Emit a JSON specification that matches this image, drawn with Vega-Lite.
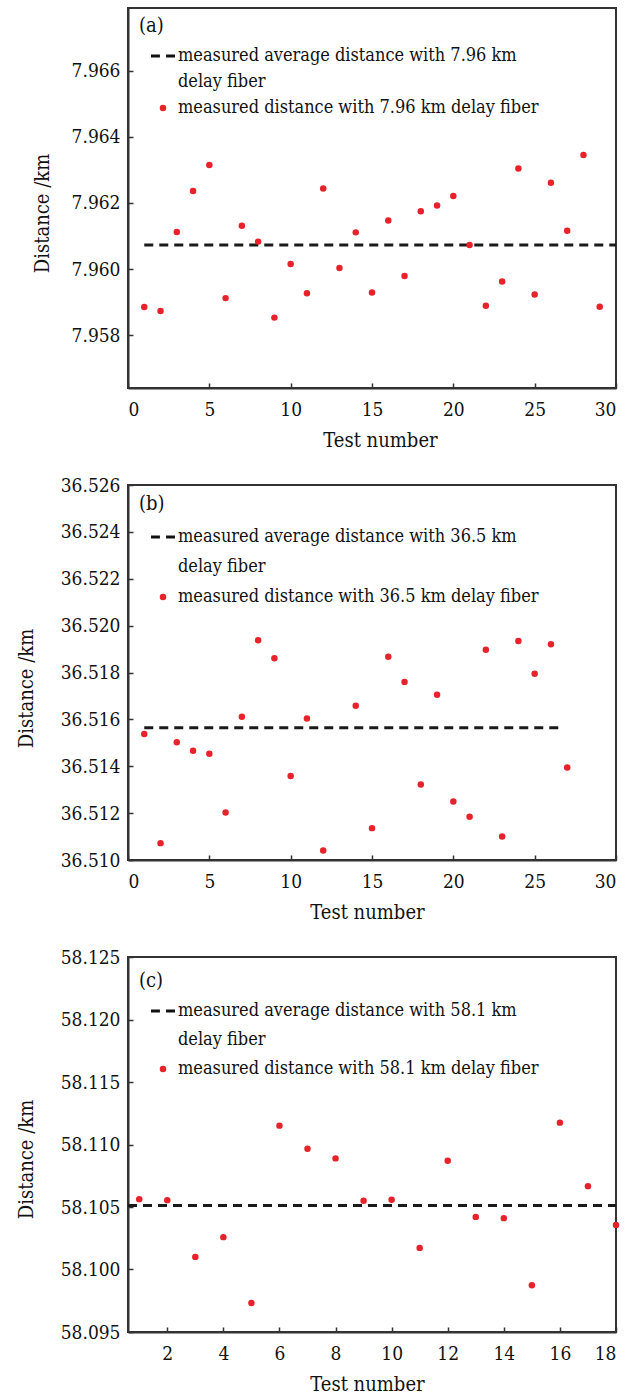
{
  "$schema": "https://vega.github.io/schema/vega-lite/v6.json",
  "autosize": {"type": "pad"},
  "padding": {"left": 15, "top": 7, "right": 10, "bottom": 2},
  "background": "white",
  "bounds": "flush",
  "spacing": 97,
  "resolve": {
    "scale": {"x": "independent", "y": "independent", "color": "independent", "shape": "independent"},
    "legend": {"color": "independent", "shape": "independent"}
  },
  "datasets": {
    "pa": [
      {"test": 1, "distance": 7.95885}, {"test": 2, "distance": 7.95873}, {"test": 3, "distance": 7.96112},
      {"test": 4, "distance": 7.96236}, {"test": 5, "distance": 7.96315}, {"test": 6, "distance": 7.95912},
      {"test": 7, "distance": 7.96131}, {"test": 8, "distance": 7.96083}, {"test": 9, "distance": 7.95853},
      {"test": 10, "distance": 7.96015}, {"test": 11, "distance": 7.95927}, {"test": 12, "distance": 7.96244},
      {"test": 13, "distance": 7.96003}, {"test": 14, "distance": 7.96111}, {"test": 15, "distance": 7.95929},
      {"test": 16, "distance": 7.96147}, {"test": 17, "distance": 7.95979}, {"test": 18, "distance": 7.96175},
      {"test": 19, "distance": 7.96192}, {"test": 20, "distance": 7.96221}, {"test": 21, "distance": 7.96073},
      {"test": 22, "distance": 7.95889}, {"test": 23, "distance": 7.95962}, {"test": 24, "distance": 7.96304},
      {"test": 25, "distance": 7.95923}, {"test": 26, "distance": 7.96261}, {"test": 27, "distance": 7.96116},
      {"test": 28, "distance": 7.96345}, {"test": 29, "distance": 7.95886}
    ],
    "pb": [
      {"test": 1, "distance": 36.51538}, {"test": 2, "distance": 36.51072}, {"test": 3, "distance": 36.51502},
      {"test": 4, "distance": 36.51466}, {"test": 5, "distance": 36.51453}, {"test": 6, "distance": 36.51203},
      {"test": 7, "distance": 36.51611}, {"test": 8, "distance": 36.51938}, {"test": 9, "distance": 36.51861},
      {"test": 10, "distance": 36.51358}, {"test": 11, "distance": 36.51604}, {"test": 12, "distance": 36.51041},
      {"test": 14, "distance": 36.51658}, {"test": 15, "distance": 36.51136}, {"test": 16, "distance": 36.51867},
      {"test": 17, "distance": 36.5176}, {"test": 18, "distance": 36.51322}, {"test": 19, "distance": 36.51705},
      {"test": 20, "distance": 36.5125}, {"test": 21, "distance": 36.51185}, {"test": 22, "distance": 36.51897},
      {"test": 23, "distance": 36.511}, {"test": 24, "distance": 36.51934}, {"test": 25, "distance": 36.51795},
      {"test": 26, "distance": 36.51921}, {"test": 27, "distance": 36.51395}
    ],
    "pc": [
      {"test": 1, "distance": 58.10563}, {"test": 2, "distance": 58.10555}, {"test": 3, "distance": 58.10101},
      {"test": 4, "distance": 58.10259}, {"test": 5, "distance": 58.09732}, {"test": 6, "distance": 58.11151},
      {"test": 7, "distance": 58.10966}, {"test": 8, "distance": 58.10889}, {"test": 9, "distance": 58.1055},
      {"test": 10, "distance": 58.10558}, {"test": 11, "distance": 58.10173}, {"test": 12, "distance": 58.1087},
      {"test": 13, "distance": 58.10421}, {"test": 14, "distance": 58.10411}, {"test": 15, "distance": 58.09874},
      {"test": 16, "distance": 58.11175}, {"test": 17, "distance": 58.10667}, {"test": 18, "distance": 58.10357}
    ]
  },
  "vconcat": [
    {
      "width": 488,
      "height": 380,
      "layer": [
        {
          "data": {"values": [{"x": 1, "x2": 30, "y": 7.96073}]},
          "mark": {"type": "rule", "strokeDash": [9, 6], "strokeWidth": 3, "color": "#1a1a1a"},
          "encoding": {
            "x": {"field": "x", "type": "quantitative", "scale": {"domain": [0, 30], "nice": false, "zero": false}},
            "x2": {"field": "x2"},
            "y": {"field": "y", "type": "quantitative", "scale": {"domain": [7.9564, 7.9679], "nice": false, "zero": false}}
          }
        },
        {
          "data": {"name": "pa"},
          "transform": [{"calculate": "'measured distance with 7.96 km delay fiber'", "as": "series"}],
          "mark": {"type": "point", "filled": true, "size": 42, "opacity": 1},
          "encoding": {
            "x": {"field": "test", "type": "quantitative", "scale": {"domain": [0, 30], "nice": false, "zero": false},
              "axis": {"values": [0, 5, 10, 15, 20, 25, 30], "title": "Test number", "titleX": 252}},
            "y": {"field": "distance", "type": "quantitative", "scale": {"domain": [7.9564, 7.9679], "nice": false, "zero": false},
              "axis": {"values": [7.958, 7.96, 7.962, 7.964, 7.966], "format": ".3f", "title": "Distance /km", "titleY": 205, "titlePadding": 19}},
            "color": {"field": "series", "type": "nominal",
              "scale": {"domain": ["measured average distance with 7.96 km", "delay fiber", "measured distance with 7.96 km delay fiber"], "range": ["#111111", "transparent", "#e8222a"]},
              "legend": {"title": "(a)", "orient": "none", "legendX": 11, "legendY": 8, "rowPadding": 8, "titlePadding": 11}},
            "shape": {"field": "series", "type": "nominal",
              "scale": {"domain": ["measured average distance with 7.96 km", "delay fiber", "measured distance with 7.96 km delay fiber"], "range": ["M-3.7,-0.45H-0.95V0.45H-3.7Z M0.95,-0.45H3.7V0.45H0.95Z", "circle", "circle"]}}
          }
        }
      ]
    },
    {
      "width": 488,
      "height": 375,
      "layer": [
        {
          "data": {"values": [{"x": 1, "x2": 26.5, "y": 36.51564}]},
          "mark": {"type": "rule", "strokeDash": [9, 6], "strokeWidth": 3, "color": "#1a1a1a"},
          "encoding": {
            "x": {"field": "x", "type": "quantitative", "scale": {"domain": [0, 30], "nice": false, "zero": false}},
            "x2": {"field": "x2"},
            "y": {"field": "y", "type": "quantitative", "scale": {"domain": [36.51, 36.526], "nice": false, "zero": false}}
          }
        },
        {
          "data": {"name": "pb"},
          "transform": [{"calculate": "'measured distance with 36.5 km delay fiber'", "as": "series"}],
          "mark": {"type": "point", "filled": true, "size": 42, "opacity": 1},
          "encoding": {
            "x": {"field": "test", "type": "quantitative", "scale": {"domain": [0, 30], "nice": false, "zero": false},
              "axis": {"values": [0, 5, 10, 15, 20, 25, 30], "title": "Test number", "titleX": 239}},
            "y": {"field": "distance", "type": "quantitative", "scale": {"domain": [36.51, 36.526], "nice": false, "zero": false},
              "axis": {"values": [36.51, 36.512, 36.514, 36.516, 36.518, 36.52, 36.522, 36.524, 36.526], "format": ".3f", "title": "Distance /km", "titleY": 203, "titlePadding": 24}},
            "color": {"field": "series", "type": "nominal",
              "scale": {"domain": ["measured average distance with 36.5 km", "delay fiber", "measured distance with 36.5 km delay fiber"], "range": ["#111111", "transparent", "#e8222a"]},
              "legend": {"title": "(b)", "orient": "none", "legendX": 11, "legendY": 9, "rowPadding": 12, "titlePadding": 14}},
            "shape": {"field": "series", "type": "nominal",
              "scale": {"domain": ["measured average distance with 36.5 km", "delay fiber", "measured distance with 36.5 km delay fiber"], "range": ["M-3.7,-0.45H-0.95V0.45H-3.7Z M0.95,-0.45H3.7V0.45H0.95Z", "circle", "circle"]}}
          }
        }
      ]
    },
    {
      "width": 488,
      "height": 375,
      "layer": [
        {
          "data": {"values": [{"x": 0.6, "x2": 18, "y": 58.10512}]},
          "mark": {"type": "rule", "strokeDash": [9, 6], "strokeWidth": 3, "color": "#1a1a1a"},
          "encoding": {
            "x": {"field": "x", "type": "quantitative", "scale": {"domain": [0.6, 18], "nice": false, "zero": false}},
            "x2": {"field": "x2"},
            "y": {"field": "y", "type": "quantitative", "scale": {"domain": [58.095, 58.125], "nice": false, "zero": false}}
          }
        },
        {
          "data": {"name": "pc"},
          "transform": [{"calculate": "'measured distance with 58.1 km delay fiber'", "as": "series"}],
          "mark": {"type": "point", "filled": true, "size": 42, "opacity": 1},
          "encoding": {
            "x": {"field": "test", "type": "quantitative", "scale": {"domain": [0.6, 18], "nice": false, "zero": false},
              "axis": {"values": [2, 4, 6, 8, 10, 12, 14, 16, 18], "title": "Test number", "titleX": 239}},
            "y": {"field": "distance", "type": "quantitative", "scale": {"domain": [58.095, 58.125], "nice": false, "zero": false},
              "axis": {"values": [58.095, 58.1, 58.105, 58.11, 58.115, 58.12, 58.125], "format": ".3f", "title": "Distance /km", "titleY": 202, "titlePadding": 24}},
            "color": {"field": "series", "type": "nominal",
              "scale": {"domain": ["measured average distance with 58.1 km", "delay fiber", "measured distance with 58.1 km delay fiber"], "range": ["#111111", "transparent", "#e8222a"]},
              "legend": {"title": "(c)", "orient": "none", "legendX": 11, "legendY": 14, "rowPadding": 11, "titlePadding": 11}},
            "shape": {"field": "series", "type": "nominal",
              "scale": {"domain": ["measured average distance with 58.1 km", "delay fiber", "measured distance with 58.1 km delay fiber"], "range": ["M-3.7,-0.45H-0.95V0.45H-3.7Z M0.95,-0.45H3.7V0.45H0.95Z", "circle", "circle"]}}
          }
        }
      ]
    }
  ],
  "config": {
    "font": "DejaVu Serif Condensed, Liberation Serif",
    "view": {"stroke": "#333333", "strokeWidth": 2},
    "axis": {
      "labelFont": "DejaVu Serif Condensed, Liberation Serif", "labelFontSize": 19, "labelColor": "#111111",
      "titleFont": "DejaVu Serif Condensed, Liberation Serif", "titleFontSize": 20, "titleFontWeight": "normal", "titleColor": "#111111",
      "grid": false, "domainColor": "#333333", "domainWidth": 2,
      "tickColor": "#333333", "tickWidth": 1.5, "tickSize": -5
    },
    "axisX": {"labelPadding": 17, "titlePadding": 11},
    "axisY": {"labelPadding": 13, "titlePadding": 20},
    "legend": {
      "labelFont": "DejaVu Serif Condensed, Liberation Serif", "labelFontSize": 18, "labelColor": "#111111",
      "titleFont": "DejaVu Serif Condensed, Liberation Serif", "titleFontSize": 20, "titleFontWeight": "normal", "titleColor": "#111111",
      "labelLimit": 600, "labelOffset": 6, "symbolOffset": 15, "padding": 0, "symbolStrokeWidth": 0, "symbolSize": 42
    }
  }
}
